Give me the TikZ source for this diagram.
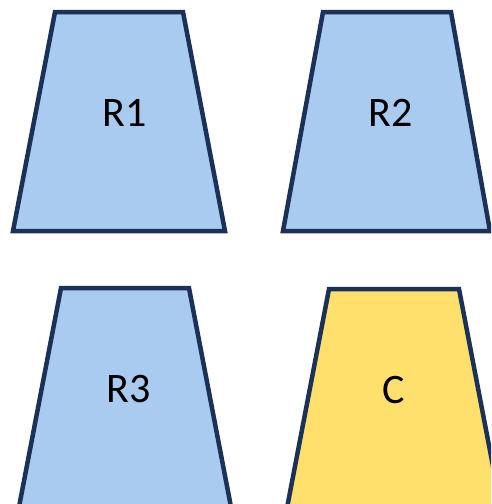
\documentclass[tikz,border=0pt]{standalone}
\usepackage{fontspec}
\setmainfont{Carlito}
\usepackage{xcolor}

\definecolor{edgenavy}{HTML}{1C3158}
\definecolor{rblue}{HTML}{A8CBEF}
\definecolor{cyellow}{HTML}{FFE06C}

\begin{document}
\begin{tikzpicture}[x=1pt, y=-1pt, font=\fontsize{42}{48}\selectfont,
  trap/.style={draw=edgenavy, line width=4.5pt, line join=miter}]
\useasboundingbox (0,0) rectangle (491,504);
\clip (0,0) rectangle (491,504);
% upper row
\draw[trap, fill=rblue] (55,12) -- (183,12) -- (225,231) -- (13,231) -- cycle;
\node (r1) at (125,113) {R1};
\draw[trap, fill=rblue] (323,12) -- (451,12) -- (490,231) -- (283,231) -- cycle;
\node (r2) at (391,113) {R2};
% lower row
\draw[trap, fill=rblue] (61,288) -- (189,288) -- (231,507) -- (19,507) -- cycle;
\node (r3) at (129,389) {R3};
\draw[trap, fill=cyellow] (329,289) -- (459,289) -- (501,508) -- (287,508) -- cycle;
\node (c) at (394,390) {C};
\end{tikzpicture}
\end{document}
